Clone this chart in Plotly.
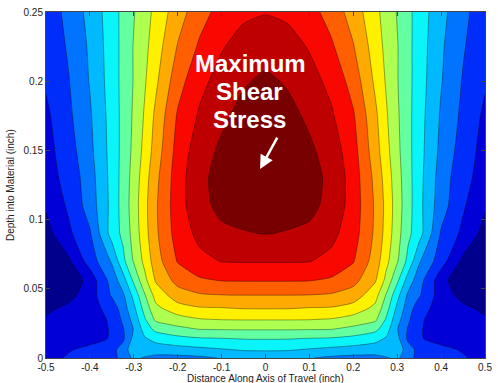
import plotly.graph_objects as go

# Grid positions (inch)
x_vals = [-0.5, -0.45, -0.4, -0.35, -0.325, -0.3, -0.275, -0.25, -0.2, -0.15, -0.1, -0.05, 0.0,
          0.05, 0.1, 0.15, 0.2, 0.25, 0.275, 0.3, 0.325, 0.35, 0.4, 0.45, 0.5]
y_vals = [0.0, 0.006, 0.014, 0.021, 0.028, 0.036, 0.045, 0.056, 0.07, 0.09, 0.11, 0.13, 0.15,
          0.175, 0.2, 0.225, 0.25]

# Shear stress level (band index), one row per depth
z_rows = [
    [1.3, 1.56, 1.85, 2.2, 2.8, 3.7, 3.4, 3.2, 3.2, 3.3, 3.55, 3.8, 3.9, 3.8, 3.55, 3.3, 3.2, 3.2, 3.4, 3.7, 2.8, 2.2, 1.85, 1.56, 1.3],
    [1.3, 1.45, 1.65, 2.2, 2.9, 4.2, 4.1, 4.0, 4.1, 4.25, 4.42, 4.58, 4.6, 4.58, 4.42, 4.25, 4.1, 4.0, 4.1, 4.2, 2.9, 2.2, 1.65, 1.45, 1.3],
    [1.15, 1.22, 1.3, 1.55, 2.3, 3.8, 4.4, 4.8, 5.2, 5.4, 5.46, 5.55, 5.56, 5.55, 5.46, 5.4, 5.2, 4.8, 4.4, 3.8, 2.3, 1.55, 1.3, 1.22, 1.15],
    [0.9, 1.1, 1.25, 1.55, 2.4, 3.56, 4.93, 5.8, 6.25, 6.55, 6.58, 6.6, 6.6, 6.6, 6.58, 6.55, 6.25, 5.8, 4.93, 3.56, 2.4, 1.55, 1.25, 1.1, 0.9],
    [0.6, 1.05, 1.2, 1.6, 2.7, 3.88, 5.4, 6.7, 7.1, 7.45, 7.55, 7.57, 7.57, 7.57, 7.55, 7.45, 7.1, 6.7, 5.4, 3.88, 2.7, 1.6, 1.2, 1.05, 0.6],
    [0.3, 0.7, 1.1, 1.9, 3.0, 4.27, 5.91, 7.25, 8.1, 8.42, 8.46, 8.55, 8.56, 8.55, 8.46, 8.42, 8.1, 7.25, 5.91, 4.27, 3.0, 1.9, 1.1, 0.7, 0.3],
    [0.1, 0.2, 1.0, 2.6, 3.28, 4.79, 6.4, 7.85, 9.0, 9.35, 9.44, 9.46, 9.46, 9.46, 9.44, 9.35, 9.0, 7.85, 6.4, 4.79, 3.28, 2.6, 1.0, 0.2, 0.1],
    [-0.2, -0.3, 0.9, 2.91, 4.03, 5.69, 7.21, 8.6, 9.83, 10.35, 10.53, 10.56, 10.56, 10.56, 10.53, 10.35, 9.83, 8.6, 7.21, 5.69, 4.03, 2.91, 0.9, -0.3, -0.2],
    [0.0, 0.3, 1.93, 3.62, 5.19, 6.6, 7.78, 9.05, 10.57, 11.23, 11.54, 11.57, 11.57, 11.57, 11.54, 11.23, 10.57, 9.05, 7.78, 6.6, 5.19, 3.62, 1.93, 0.3, 0.0],
    [0.14, 1.27, 2.4, 4.9, 5.73, 6.88, 8.13, 9.32, 10.94, 11.77, 12.3, 12.45, 12.53, 12.45, 12.3, 11.77, 10.94, 9.32, 8.13, 6.88, 5.73, 4.9, 2.4, 1.27, 0.14],
    [0.6, 1.63, 2.93, 4.8, 5.89, 6.98, 8.22, 9.37, 11.06, 12.2, 12.75, 12.82, 12.86, 12.82, 12.75, 12.2, 11.06, 9.37, 8.22, 6.98, 5.89, 4.8, 2.93, 1.63, 0.6],
    [1.1, 1.79, 3.06, 4.83, 5.86, 6.89, 8.08, 9.24, 11.03, 12.3, 12.8, 12.98, 13.05, 12.98, 12.8, 12.3, 11.03, 9.24, 8.08, 6.89, 5.86, 4.83, 3.06, 1.79, 1.1],
    [1.15, 2.03, 3.25, 4.87, 5.8, 6.75, 7.82, 8.95, 10.88, 12.05, 12.68, 13.0, 13.1, 13.0, 12.68, 12.05, 10.88, 8.95, 7.82, 6.75, 5.8, 4.87, 3.25, 2.03, 1.15],
    [1.3, 2.27, 3.38, 4.91, 5.78, 6.65, 7.62, 8.72, 10.61, 11.63, 12.3, 12.83, 13.0, 12.83, 12.3, 11.63, 10.61, 8.72, 7.62, 6.65, 5.78, 4.91, 3.38, 2.27, 1.3],
    [1.62, 2.42, 3.56, 4.98, 5.78, 6.56, 7.4, 8.31, 10.1, 11.23, 11.87, 12.39, 12.7, 12.39, 11.87, 11.23, 10.1, 8.31, 7.4, 6.56, 5.78, 4.98, 3.56, 2.42, 1.62],
    [1.72, 2.6, 3.65, 5.02, 5.76, 6.56, 7.24, 8.02, 9.56, 10.65, 11.42, 11.9, 12.05, 11.9, 11.42, 10.65, 9.56, 8.02, 7.24, 6.56, 5.76, 5.02, 3.65, 2.6, 1.72],
    [1.85, 2.79, 3.8, 5.06, 5.75, 6.44, 7.1, 7.77, 9.06, 10.09, 10.87, 11.3, 11.45, 11.3, 10.87, 10.09, 9.06, 7.77, 7.1, 6.44, 5.75, 5.06, 3.8, 2.79, 1.85],
]

band_colors = [
    "rgb(0,0,140)", "rgb(0,0,215)", "rgb(0,45,250)", "rgb(0,115,255)", "rgb(0,185,255)",
    "rgb(10,245,250)", "rgb(100,255,160)", "rgb(175,255,80)", "rgb(255,240,0)",
    "rgb(255,170,0)", "rgb(255,95,0)", "rgb(248,8,0)", "rgb(190,0,0)", "rgb(120,0,0)",
]

x_tickvals = [-0.5, -0.4, -0.3, -0.2, -0.1, 0, 0.1, 0.2, 0.3, 0.4, 0.5]
x_ticktext = ["-0.5", "-0.4", "-0.3", "-0.2", "-0.1", "0", "0.1", "0.2", "0.3", "0.4", "0.5"]
y_tickvals = [0, 0.05, 0.1, 0.15, 0.2, 0.25]
y_ticktext = ["0", "0.05", "0.1", "0.15", "0.2", "0.25"]

n = len(band_colors) - 1
colorscale = [[i / n, c] for i, c in enumerate(band_colors)]

fig = go.Figure(go.Contour(
    x=x_vals, y=y_vals, z=z_rows,
    contours=dict(start=0.5, end=12.5, size=1, coloring="fill"),
    colorscale=colorscale, showscale=False,
    line=dict(color="rgba(0,0,0,0.6)", width=0.6, smoothing=0.6),
    hoverinfo="skip",
))

axis_font = dict(family="Liberation Sans, Arial, sans-serif", size=10, color="#222")
fig.update_xaxes(range=[-0.5, 0.5], tickvals=x_tickvals, ticktext=x_ticktext,
                 ticks="inside", ticklen=4, tickcolor="#444", showline=True,
                 linecolor="#444", linewidth=1, mirror="ticks", showgrid=False,
                 zeroline=False, tickfont=axis_font, ticklabeloverflow="allow")
fig.update_yaxes(range=[0, 0.25], tickvals=y_tickvals, ticktext=y_ticktext,
                 ticks="inside", ticklen=4, tickcolor="#444", showline=True,
                 linecolor="#444", linewidth=1, mirror="ticks", showgrid=False,
                 zeroline=False, tickfont=axis_font, ticklabeloverflow="allow")

label_font = dict(family="Liberation Sans, Arial, sans-serif", size=24, color="white")
annotations = [
    dict(x=-0.034, y=0.2125, xref="x", yref="y", text="<b>Maximum</b>", showarrow=False,
         font=label_font, xanchor="center", yanchor="middle"),
    dict(x=-0.036, y=0.1925, xref="x", yref="y", text="<b>Shear</b>", showarrow=False,
         font=label_font, xanchor="center", yanchor="middle"),
    dict(x=-0.036, y=0.1725, xref="x", yref="y", text="<b>Stress</b>", showarrow=False,
         font=label_font, xanchor="center", yanchor="middle"),
    dict(x=-0.0124, y=0.1365, xref="x", yref="y", text="", showarrow=True,
         ax=18, ay=-33, arrowhead=2, arrowsize=1.1, arrowwidth=2.5, arrowcolor="white"),
    dict(x=0.5, y=0, xref="paper", yref="paper", text="Distance Along Axis of Travel (inch)",
         showarrow=False, xanchor="center", yanchor="top", yshift=-13,
         font=axis_font),
    dict(x=0, y=0.5, xref="paper", yref="paper", text="Depth into Material (inch)",
         showarrow=False, xanchor="center", yanchor="middle", xshift=-36, textangle=-90,
         font=axis_font),
]

fig.update_layout(
    width=498, height=383,
    margin=dict(l=46, r=6, t=10, b=25),
    paper_bgcolor="white", plot_bgcolor="white",
    annotations=annotations,
    showlegend=False,
)

fig.write_html("out.html")
